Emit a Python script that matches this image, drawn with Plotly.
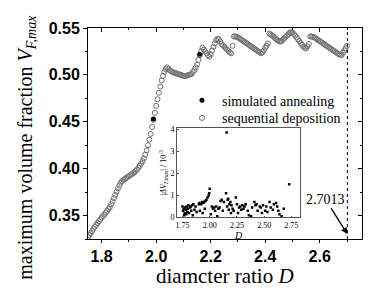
import plotly.graph_objects as go

# sequential deposition (open circles)
D_seq = [1.750, 1.755, 1.760, 1.765, 1.770, 1.775, 1.780, 1.785, 1.790, 1.795,
         1.800, 1.805, 1.810, 1.815, 1.820, 1.825, 1.830, 1.835, 1.840, 1.845,
         1.850, 1.855, 1.860, 1.865, 1.870, 1.875, 1.880, 1.885, 1.890, 1.895,
         1.900, 1.905, 1.910, 1.915, 1.920, 1.925, 1.930, 1.935, 1.940, 1.945,
         1.950, 1.955, 1.960, 1.965, 1.970, 1.975, 1.980, 1.985, 1.990, 1.995,
         2.000, 2.005, 2.010, 2.015, 2.020, 2.025, 2.030, 2.035, 2.040, 2.045,
         2.050, 2.055, 2.060, 2.065, 2.070, 2.075, 2.080, 2.085, 2.090, 2.095,
         2.100, 2.105, 2.110, 2.115, 2.120, 2.125, 2.130, 2.135, 2.140, 2.145,
         2.150, 2.155, 2.160, 2.165, 2.170, 2.175, 2.180, 2.185, 2.190, 2.195,
         2.200, 2.205, 2.210, 2.215, 2.220, 2.225, 2.230, 2.235, 2.240, 2.245,
         2.250, 2.255, 2.260, 2.265, 2.270, 2.275, 2.280, 2.285, 2.290, 2.295,
         2.300, 2.305, 2.310, 2.315, 2.320, 2.325, 2.330, 2.335, 2.340, 2.345,
         2.350, 2.355, 2.360, 2.365, 2.370, 2.375, 2.380, 2.385, 2.390, 2.395,
         2.400, 2.405, 2.410, 2.415, 2.420, 2.425, 2.430, 2.435, 2.440, 2.445,
         2.450, 2.455, 2.460, 2.465, 2.470, 2.475, 2.480, 2.485, 2.490, 2.495,
         2.500, 2.505, 2.510, 2.515, 2.520, 2.525, 2.530, 2.535, 2.540, 2.545,
         2.550, 2.555, 2.560, 2.565, 2.570, 2.575, 2.580, 2.585, 2.590, 2.595,
         2.600, 2.605, 2.610, 2.615, 2.620, 2.625, 2.630, 2.635, 2.640, 2.645,
         2.650, 2.655, 2.660, 2.665, 2.670, 2.675, 2.680, 2.685, 2.690, 2.695,
         2.700]
V_seq = [0.327, 0.329, 0.331, 0.3335, 0.336, 0.338, 0.340, 0.342, 0.344, 0.346,
         0.348, 0.3495, 0.351, 0.353, 0.355, 0.357, 0.359, 0.362, 0.365, 0.3685,
         0.372, 0.3755, 0.379, 0.382, 0.385, 0.3868, 0.388, 0.389, 0.390, 0.391,
         0.392, 0.393, 0.394, 0.395, 0.396, 0.3975, 0.399, 0.401, 0.403, 0.4055,
         0.408, 0.411, 0.415, 0.4195, 0.425, 0.431, 0.437, 0.4445, 0.452, 0.4595,
         0.467, 0.474, 0.481, 0.4875, 0.494, 0.499, 0.503, 0.506, 0.508, 0.5065,
         0.505, 0.504, 0.503, 0.5025, 0.502, 0.5015, 0.501, 0.5005, 0.500, 0.4995,
         0.499, 0.499, 0.499, 0.4995, 0.500, 0.5005, 0.501, 0.503, 0.505, 0.508,
         0.511, 0.516, 0.521, 0.525, 0.529, 0.527, 0.525, 0.523, 0.521, 0.5195,
         0.522, 0.526, 0.530, 0.5335, 0.537, 0.5385, 0.538, 0.5355, 0.533, 0.5315,
         0.530, 0.5285, 0.527, 0.5255, 0.524, 0.523, 0.531, 0.541, 0.541, 0.5405,
         0.540, 0.539, 0.538, 0.537, 0.536, 0.535, 0.534, 0.533, 0.532, 0.531,
         0.530, 0.529, 0.528, 0.527, 0.526, 0.525, 0.524, 0.523, 0.524, 0.526,
         0.529, 0.531, 0.5335, 0.544, 0.543, 0.542, 0.541, 0.5395, 0.538, 0.537,
         0.536, 0.5355, 0.536, 0.5375, 0.539, 0.5405, 0.542, 0.5435, 0.545, 0.5455,
         0.545, 0.5435, 0.542, 0.540, 0.538, 0.536, 0.534, 0.532, 0.530, 0.529,
         0.528, 0.5305, 0.533, 0.541, 0.541, 0.5405, 0.540, 0.539, 0.538, 0.537,
         0.536, 0.535, 0.534, 0.533, 0.532, 0.531, 0.530, 0.529, 0.528, 0.527,
         0.526, 0.525, 0.524, 0.523, 0.522, 0.5215, 0.521, 0.5235, 0.526, 0.5285,
         0.531]

# simulated annealing (filled dots)
D_sa = [1.99, 2.16]
V_sa = [0.453, 0.522]

# inset: |dV_F,max| / 10^-3
D_in = [1.75, 1.755, 1.76, 1.765, 1.77, 1.775, 1.78, 1.785, 1.79, 1.795,
        1.80, 1.805, 1.81, 1.82, 1.825, 1.83, 1.84, 1.845, 1.85, 1.86, 1.87, 1.88,
        1.90, 1.905, 1.91, 1.92, 1.93, 1.935, 1.94, 1.95, 1.955, 1.96, 1.97, 1.98, 1.99, 1.995, 2.00,
        2.01, 2.02, 2.03, 2.04, 2.05, 2.06, 2.07, 2.08, 2.09,
        2.10, 2.11, 2.12, 2.13, 2.15, 2.155, 2.16, 2.165, 2.17, 2.175, 2.18, 2.19, 2.195,
        2.20, 2.21, 2.22, 2.24, 2.25, 2.26, 2.27, 2.28, 2.29,
        2.30, 2.31, 2.32, 2.33, 2.35, 2.36, 2.38, 2.39,
        2.41, 2.42, 2.43, 2.44, 2.46, 2.47, 2.48, 2.49,
        2.51, 2.52, 2.53, 2.55, 2.56, 2.58, 2.59,
        2.61, 2.62, 2.63, 2.64, 2.66, 2.73, 2.68]
dV_in = [0.5, 0.3, 0.4, 0.1, 0.2, 0.45, 0.35, 0.15, 0.5, 0.25,
         0.4, 0.55, 0.2, 0.45, 0.5, 0.3, 0.55, 0.1, 0.6, 0.35, 0.5, 0.25,
         0.6, 0.65, 0.3, 0.6, 0.7, 0.2, 0.65, 0.7, 0.4, 0.75, 0.8, 0.9, 1.0, 1.1, 1.3,
         0.15, 0.5, 0.4, 0.45, 0.3, 0.5, 0.05, 0.4, 0.45,
         0.75, 0.8, 0.3, 0.7, 1.1, 3.85, 0.5, 0.8, 0.85, 0.35, 0.6, 0.7, 0.2,
         0.55, 0.4, 0.3, 0.9, 0.6, 0.2, 0.45, 0.5, 0.35,
         0.55, 0.4, 0.5, 0.6, 0.3, 0.1, 0.05, 0.45,
         0.7, 0.55, 0.6, 0.3, 0.5, 0.45, 0.2, 0.55,
         0.3, 0.5, 0.25, 0.7, 0.45, 0.35, 0.6,
         0.65, 0.5, 0.3, 0.15, 0.05, 1.5, 0.4]

D_crit = 2.7013

SERIF = "Liberation Serif, Times New Roman, serif"
SANS = "Liberation Sans, Arial, sans-serif"

fig = go.Figure()

fig.add_trace(go.Scatter(
    x=D_seq, y=V_seq, mode="markers", name="sequential deposition", legend="legend2",
    marker=dict(symbol="circle-open", size=5, color="#707070", line=dict(width=1)),
))
fig.add_trace(go.Scatter(
    x=D_sa, y=V_sa, mode="markers", name="simulated annealing", legend="legend",
    marker=dict(symbol="circle", size=5, color="black"),
))
fig.add_trace(go.Scatter(
    x=D_in, y=dV_in, mode="markers", showlegend=False,
    marker=dict(symbol="square", size=2.5, color="black"),
    xaxis="x2", yaxis="y2",
))
# dummy for overlay axes (top/right inward ticks)
fig.add_trace(go.Scatter(x=[None], y=[None], xaxis="x3", yaxis="y3", showlegend=False, hoverinfo="skip"))

xr = [1.75, 2.755]
yr = [0.325, 0.55]

leg_common = dict(x=0.343, xanchor="left", yanchor="middle",
                  font=dict(family=SERIF, size=14, color="black"),
                  bgcolor="rgba(0,0,0,0)", itemwidth=30)

fig.update_layout(
    width=384, height=286,
    margin=dict(l=80, r=30, t=16, b=55),
    paper_bgcolor="white", plot_bgcolor="white",
    showlegend=True,
    legend=dict(y=0.656, **leg_common),
    legend2=dict(y=0.572, **leg_common),
    xaxis=dict(range=xr, domain=[0, 1], showline=True, linecolor="black", linewidth=1,
               ticks="outside", ticklen=3, tickcolor="black", tick0=1.8, dtick=0.2,
               tickformat=".1f", showgrid=False, zeroline=False,
               tickfont=dict(family=SANS, size=16, color="black", weight="bold"),
               minor=dict(ticks="outside", ticklen=2, dtick=0.1, tick0=1.8, tickcolor="black"),
               anchor="y"),
    yaxis=dict(range=yr, domain=[0, 1], showline=True, linecolor="black", linewidth=1,
               ticks="outside", ticklen=4, tickcolor="black", tick0=0.35, dtick=0.05,
               tickformat=".2f", showgrid=False, zeroline=False,
               tickfont=dict(family=SANS, size=16, color="black", weight="bold"),
               minor=dict(ticks="outside", ticklen=2, dtick=0.025, tick0=0.35, tickcolor="black"),
               anchor="x"),
    xaxis3=dict(range=xr, overlaying="x", side="top", anchor="y", showline=True, linecolor="black",
                ticks="inside", ticklen=4, tickcolor="black", tick0=1.8, dtick=0.2,
                showticklabels=False, showgrid=False, zeroline=False,
                minor=dict(ticks="inside", ticklen=2, dtick=0.1, tick0=1.8, tickcolor="black")),
    yaxis3=dict(range=yr, overlaying="y", side="right", anchor="x", showline=True, linecolor="black",
                ticks="inside", ticklen=4, tickcolor="black", tick0=0.35, dtick=0.05,
                showticklabels=False, showgrid=False, zeroline=False,
                minor=dict(ticks="inside", ticklen=2, dtick=0.025, tick0=0.35, tickcolor="black")),
    xaxis2=dict(domain=[0.325, 0.774], range=[1.70, 2.83], anchor="y2",
                showline=True, mirror=True, linecolor="#555555", linewidth=0.8,
                ticks="inside", ticklen=2, tickcolor="#555555",
                tickvals=[1.75, 2.00, 2.25, 2.50, 2.75], ticktext=["1.75", "2.00", "2.25", "2.50", "2.75"],
                showgrid=False, zeroline=False, tickfont=dict(family=SERIF, size=8, color="black"),
                title=dict(text="<i>D</i>", font=dict(family=SERIF, size=10, color="black"), standoff=0)),
    yaxis2=dict(domain=[0.102, 0.526], range=[0, 4.05], anchor="x2",
                showline=True, mirror=True, linecolor="#555555", linewidth=0.8,
                ticks="inside", ticklen=2, tickcolor="#555555",
                tickvals=[0, 1, 2, 3, 4], showgrid=False, zeroline=False,
                tickfont=dict(family=SERIF, size=8, color="black"),
                title=dict(text="|<i>ΔV</i><sub><i>F,max</i></sub>| / 10<sup>-3</sup>",
                           font=dict(family=SERIF, size=8, color="black"), standoff=2)),
)

# critical diameter ratio dotted line
fig.add_shape(type="line", x0=D_crit, x1=D_crit, y0=0, y1=1, xref="x", yref="paper",
              line=dict(color="black", width=1, dash="dot"))

fig.add_annotation(x=D_crit, y=0.3302, xref="x", yref="y", text=str(D_crit),
                   showarrow=True, arrowhead=2, arrowsize=1, arrowwidth=1.3, arrowcolor="black",
                   ax=-22, ay=-35, font=dict(family=SERIF, size=14, color="black"))

# axis titles
fig.add_annotation(x=-0.223, y=0.437, xref="paper", yref="paper", showarrow=False, textangle=-90,
                   text="maximum volume fraction <i>V</i><sub><i>F,max</i></sub>",
                   font=dict(family=SERIF, size=20, color="black"), xanchor="center", yanchor="middle")
fig.add_annotation(x=0.5, y=-0.175, xref="paper", yref="paper", showarrow=False,
                   text="diamcter ratio <i>D</i>",
                   font=dict(family=SERIF, size=21, color="black"), xanchor="center", yanchor="middle")

fig.write_html("out.html")
